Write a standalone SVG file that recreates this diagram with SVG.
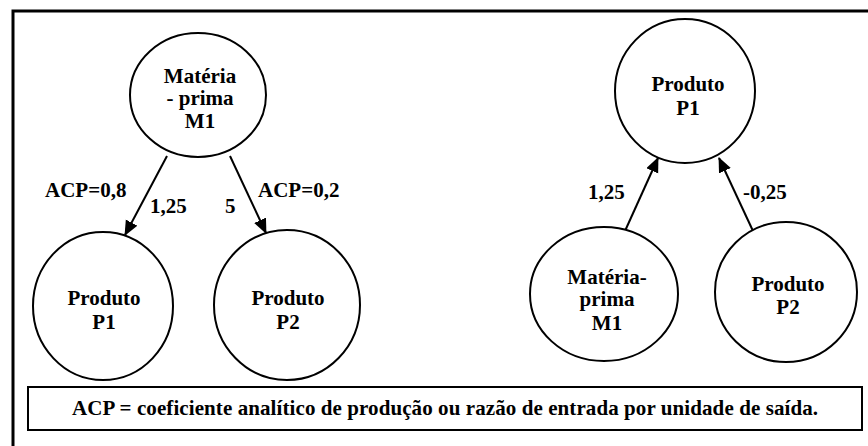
<svg xmlns="http://www.w3.org/2000/svg" width="868" height="446" viewBox="0 0 868 446">
<defs>
<style>
.n{fill:#fff;stroke:#000;stroke-width:2}
text{font-family:'Liberation Serif','Times New Roman',Times,serif;font-weight:bold;font-size:21px;fill:#000}
.t{text-anchor:middle}
.c{stroke:#000;stroke-width:2;fill:none;marker-end:url(#ah)}
</style>
<marker id="ah" markerWidth="16" markerHeight="14" refX="14" refY="6.5" orient="auto" markerUnits="userSpaceOnUse">
<path d="M0,0 L15,6.5 L0,13 Z" fill="#000"/>
</marker>
</defs>
<rect x="0" y="0" width="868" height="446" fill="#fff"/>
<rect x="13" y="11" width="880" height="460" fill="none" stroke="#000" stroke-width="3"/>
<g id="connectors">
<line class="c" x1="167" y1="156" x2="125" y2="235"/>
<line class="c" x1="230" y1="156" x2="266" y2="233"/>
<line class="c" x1="625" y1="231" x2="658" y2="158"/>
<line class="c" x1="753" y1="231" x2="719" y2="158"/>
</g>
<g id="labels">
<text x="45" y="197">ACP=0,8</text>
<text x="150" y="213">1,25</text>
<text x="225" y="213">5</text>
<text x="258" y="197">ACP=0,2</text>
<text x="588" y="199">1,25</text>
<text x="743" y="199">-0,25</text>
</g>
<g id="m1-left">
<ellipse class="n" cx="198" cy="95" rx="68" ry="62"/>
<text class="t" x="200" y="83">Matéria</text>
<text class="t" x="200" y="105">- prima</text>
<text class="t" x="200" y="128">M1</text>
</g>
<g id="p1-left">
<ellipse class="n" cx="103" cy="306" rx="70" ry="74"/>
<text class="t" x="104" y="305">Produto</text>
<text class="t" x="104" y="329">P1</text>
</g>
<g id="p2-left">
<ellipse class="n" cx="287" cy="305" rx="73" ry="75"/>
<text class="t" x="288" y="305">Produto</text>
<text class="t" x="288" y="329">P2</text>
</g>
<g id="p1-right">
<ellipse class="n" cx="685" cy="91" rx="70" ry="72"/>
<text class="t" x="688" y="91">Produto</text>
<text class="t" x="688" y="115">P1</text>
</g>
<g id="m1-right">
<ellipse class="n" cx="604" cy="294" rx="74" ry="67"/>
<text class="t" x="607" y="284">Matéria-</text>
<text class="t" x="607" y="306">prima</text>
<text class="t" x="607" y="330">M1</text>
</g>
<g id="p2-right">
<ellipse class="n" cx="786" cy="292" rx="71" ry="70"/>
<text class="t" x="788" y="291">Produto</text>
<text class="t" x="788" y="314">P2</text>
</g>
<g id="legend">
<rect x="28" y="387" width="834" height="43" fill="none" stroke="#000" stroke-width="2"/>
<text x="72" y="415" textLength="746" lengthAdjust="spacing">ACP = coeficiente analítico de produção ou razão de entrada por unidade de saída.</text>
</g>
</svg>
